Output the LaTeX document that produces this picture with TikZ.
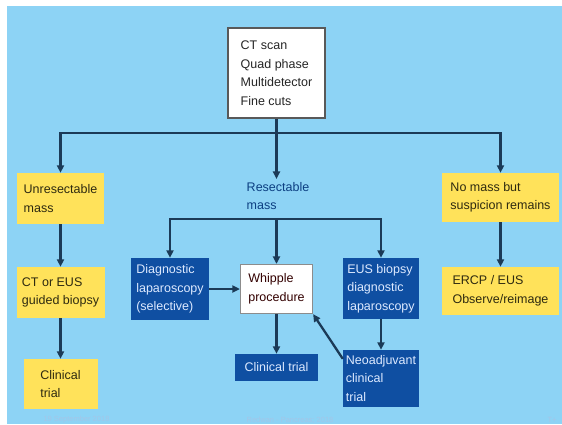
\documentclass[tikz,border=0pt]{standalone}
\usepackage{fontspec}
\setmainfont{Liberation Sans}
\usetikzlibrary{arrows.meta}
\definecolor{bgblue}{HTML}{8DD3F5}
\definecolor{boxyellow}{HTML}{FFE25A}
\definecolor{boxblue}{HTML}{0F4FA2}
\definecolor{linec}{HTML}{1B3A57}
\definecolor{ytext}{HTML}{2E2A10}
\definecolor{btext}{HTML}{DCE9FF}
\definecolor{foot}{HTML}{A3C6E8}
\begin{document}
\begin{tikzpicture}[x=1pt,y=-1pt,
  base/.style={inner sep=0pt, align=left, font=\fontsize{12.5}{18.5}\selectfont},
  whitebox/.style={base, fill=white, draw=#1, line width=1.2pt, text=black!85},
  ybox/.style={base, fill=boxyellow, text=ytext},
  bbox/.style={base, fill=boxblue, text=btext},
  arr/.style={draw=linec, line width=2.3pt, -{Triangle[length=7.5pt,width=7pt]}},
  ln/.style={draw=linec, line width=2.3pt},
  footnode/.style={inner sep=0pt, text=foot, font=\fontsize{7.5}{9}\selectfont}]
\useasboundingbox (0,0) rectangle (562,424);
\fill[white] (0,0) rectangle (562,424);
\fill[bgblue] (7,6) rectangle (562,424);

\node[whitebox=black!65, minimum width=97pt, minimum height=90pt] (ct) at (276.5,73)
  {CT scan\\Quad phase\\Multidetector\\Fine cuts};

\node[ybox, minimum width=87pt, minimum height=51pt] (unres) at (60.5,198.5) {Unresectable\\mass};
\node[ybox, minimum width=88pt, minimum height=51pt] (ctbx) at (60.5,292.5) {CT or EUS\\guided biopsy};
\node[ybox, minimum width=74pt, minimum height=50pt] (clin1) at (60.5,384) {Clinical\\trial};

\node[base, text=boxblue!80!black, inner sep=3pt] (res) at (278,196) {Resectable\\mass};

\node[bbox, minimum width=78pt, minimum height=62pt] (diag) at (170,289) {Diagnostic\\laparoscopy\\(selective)};
\node[whitebox=black!45, minimum width=72pt, minimum height=49pt, text=black!80!red] (whip) at (276.5,289) {Whipple\\procedure};
\node[bbox, minimum width=76pt, minimum height=61pt] (eus) at (381,288.5) {EUS biopsy\\diagnostic\\laparoscopy};
\node[bbox, minimum width=76pt, minimum height=57pt] (neo) at (381,378.5) {Neoadjuvant\\clinical\\trial};
\node[bbox, minimum width=83pt, minimum height=27pt] (clin2) at (276.5,367.5) {Clinical trial};

\node[ybox, minimum width=117pt, minimum height=49pt] (nomass) at (500.5,197.5) {No mass but\\suspicion remains};
\node[ybox, minimum width=117pt, minimum height=48pt] (ercp) at (500.5,291) {ERCP / EUS\\Observe/reimage};

\coordinate (j1) at (276.5,133);
\coordinate (j2) at (276.5,219);

\draw[ln] (ct.south) -- (j1);
\draw[arr] (j1) -| (unres.north);
\draw[arr] (j1) -| (nomass.north);
\draw[arr] (j1) -- (j1 |- res.north);

\draw[arr] (unres.south) -- (ctbx.north);
\draw[arr] (ctbx.south) -- (clin1.north);
\draw[arr] (nomass.south) -- (ercp.north);

\draw[arr] (j2) -| (diag.north);
\draw[arr] (j2) -| (eus.north);
\draw[arr] (j2) -- (whip.north);

\draw[arr] (diag.east) -- (diag.east -| whip.west);
\draw[arr] (whip.south) -- (clin2.north);
\draw[arr] (eus.south) -- (neo.north);
\draw[arr] ([yshift=-9pt]neo.north west) -- (whip.south east);

\node[footnode] (f1) at (76.5,420) {19 September 2018};
\node[footnode] (f2) at (290,420) {Redwan - Pancreas; 2018};
\node[footnode] (f3) at (552,420) {T+};
\end{tikzpicture}
\end{document}
